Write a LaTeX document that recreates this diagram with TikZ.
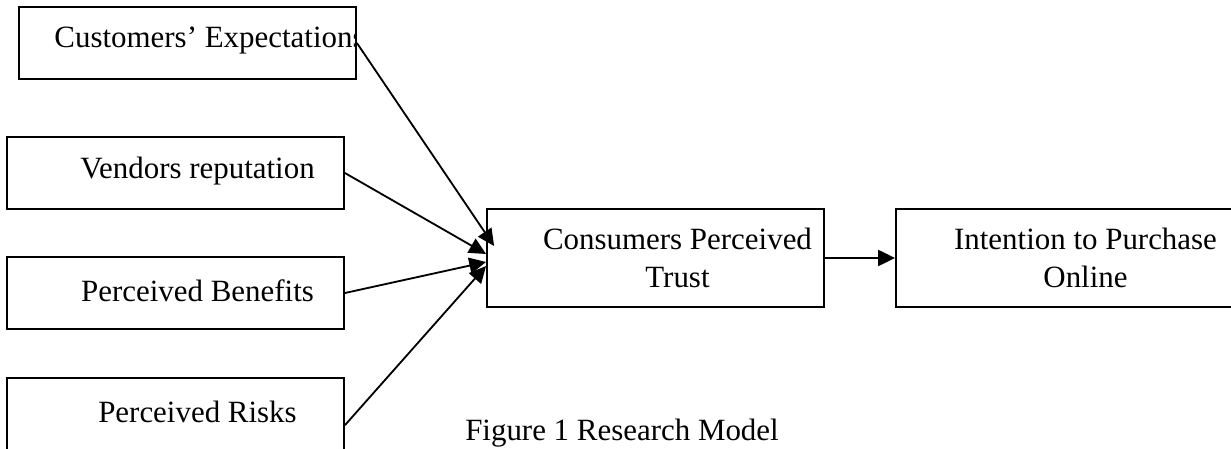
\documentclass[tikz,border=0pt]{standalone}
\usepackage{fontspec}
\setmainfont{Liberation Serif}
\usetikzlibrary{arrows.meta}
\tikzset{
	blk/.style={draw,line width=1.3pt,inner sep=0pt,minimum width=8.425cm,minimum height=1.8cm},
	blkt/.style={blk,minimum height=2.45cm},
	txt/.style={inner sep=0pt,align=center,font=\fontsize{22}{26.5}\selectfont},
	link/.style={line width=1.3pt,->},
	>={Triangle[length=0.42cm,width=0.4cm]},
	}

\begin{document}
\begin{tikzpicture}
\useasboundingbox (0,0) rectangle (30.775,11.2);

\node[blk] (exp) at (4.6875,10.125) {};
\node[blk] (ven) at (4.3875,6.875) {};
\node[blk] (ben) at (4.3875,3.875) {};
\node[blk] (risk) at (4.3875,0.85) {};
\node[blkt] (trust) at (16.3875,4.75) {};
% right edge lies outside the page
\node[blkt,minimum width=10cm,anchor=west] (intent) at (22.375,4.75) {};

% text runs past the box edge
\begin{scope}
\clip (exp.south west) rectangle (exp.north east);
\node[txt] (expt) at ([shift={(0.55,0.06)}]exp.center) {Customers’ Expectations};
\end{scope}
\node[txt] (vent) at ([shift={(0.55,0.06)}]ven.center) {Vendors reputation};
\node[txt] (bent) at ([shift={(0.55,0.06)}]ben.center) {Perceived Benefits};
\node[txt] (riskt) at ([shift={(0.55,0.06)}]risk.center) {Perceived Risks};
\node[txt] (trustt) at ([shift={(0.55,0)}]trust.center) {Consumers Perceived\\Trust};
\node[txt] (intentt) at (27.1375,4.75) {Intention to Purchase\\Online};
\node[txt] (cap) at (15.55,0.375) {Figure 1 Research Model};

\draw[link] (exp.east) -- ([shift={(0.2,0.3)}]trust.west);
\draw[link] (ven.east) -- ([yshift=0.1cm]trust.west);
\draw[link] (ben.east) -- ([yshift=-0.1cm]trust.west);
\draw[link] ([yshift=-0.28cm]risk.east) -- ([yshift=-0.2cm]trust.west);
\draw[link] (trust) -- (intent);
\end{tikzpicture}
\end{document}
